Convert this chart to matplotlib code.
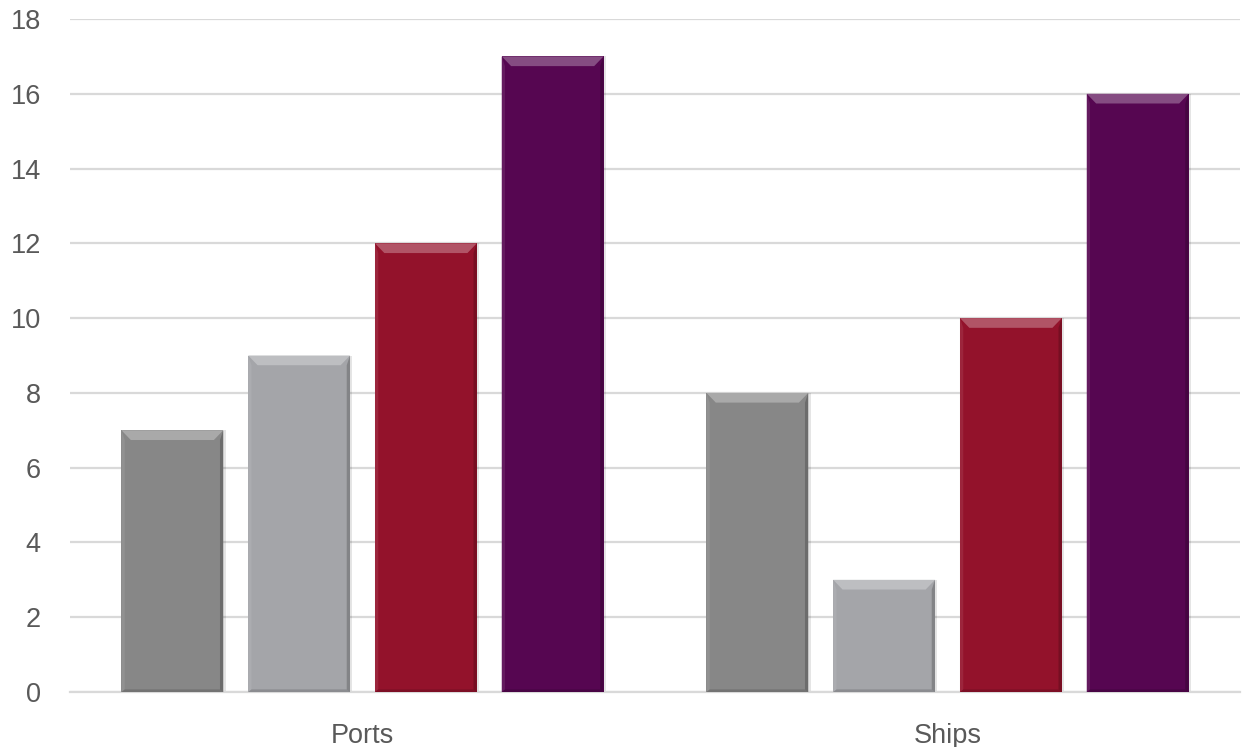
import numpy as np
import matplotlib
matplotlib.use("Agg")
import matplotlib.pyplot as plt
from matplotlib.patches import Polygon
import matplotlib.colors as mcolors

# ── data ──
categories = ["Ports", "Ships"]
series_a = [7, 8]
series_b = [9, 3]
series_c = [12, 10]
series_d = [17, 16]
y_ticks = [0, 2, 4, 6, 8, 10, 12, 14, 16, 18]

COLORS = ["#878787", "#A4A5A9", "#93122B", "#560651"]

plt.rcParams['font.family'] = ['Liberation Sans', 'DejaVu Sans']

fig = plt.figure(figsize=(12.49, 7.47), dpi=100)
ax = fig.add_axes([70 / 1249, 1 - 692 / 747, 1170 / 1249, 673 / 747])

x = np.arange(len(categories))
width = 0.174
step = 0.2167
all_series = [series_a, series_b, series_c, series_d]


def lighten(c, f):
    r, g, b = mcolors.to_rgb(c)
    return (r + (1 - r) * f, g + (1 - g) * f, b + (1 - b) * f)


def darken(c, f):
    r, g, b = mcolors.to_rgb(c)
    return (r * (1 - f), g * (1 - f), b * (1 - f))


bev_y = 0.26   # bevel height in data units
bev_x = 0.016  # bevel width in category units
for i, (vals, col) in enumerate(zip(all_series, COLORS)):
    pos = x + (i - 1.5) * step
    # soft shadow
    ax.bar(pos + 0.004, vals, width, color="#000000", alpha=0.10, zorder=2)
    ax.bar(pos, vals, width, color=col, zorder=3)
    for p, v in zip(pos, vals):
        l, r = p - width / 2, p + width / 2
        # top bevel (light)
        ax.add_patch(Polygon([(l, v), (r, v), (r - bev_x, v - bev_y), (l + bev_x, v - bev_y)],
                             closed=True, facecolor=lighten(col, 0.28), edgecolor="none", zorder=4))
        # left edge
        ax.add_patch(Polygon([(l, v), (l + bev_x * 0.35, v - bev_y), (l + bev_x * 0.35, 0), (l, 0)],
                             closed=True, facecolor=lighten(col, 0.08), edgecolor="none", zorder=4))
        # right edge (dark)
        ax.add_patch(Polygon([(r, v), (r - bev_x * 0.35, v - bev_y), (r - bev_x * 0.35, 0), (r, 0)],
                             closed=True, facecolor=darken(col, 0.2), edgecolor="none", zorder=4))
        # bottom edge
        ax.add_patch(Polygon([(l, 0), (r, 0), (r - bev_x * 0.35, 0.07), (l + bev_x * 0.35, 0.07)],
                             closed=True, facecolor=darken(col, 0.15), edgecolor="none", zorder=4))

ax.set_xlim(-0.5, 1.5)
ax.set_ylim(0, 18)
ax.set_yticks(y_ticks)
ax.set_xticks(x)
ax.set_xticklabels(categories)
ax.yaxis.grid(True, color="#D9D9D9", linewidth=1.6, zorder=0)
ax.set_axisbelow(True)
for s in ["top", "right", "left"]:
    ax.spines[s].set_visible(False)
ax.spines["bottom"].set_color("#D9D9D9")
ax.spines["bottom"].set_linewidth(1.6)
ax.tick_params(axis="both", length=0, colors="#595959", labelsize=19.5)
ax.tick_params(axis="x", pad=22)
ax.tick_params(axis="y", pad=21)

fig.savefig("out.png", dpi=100, facecolor="white")
